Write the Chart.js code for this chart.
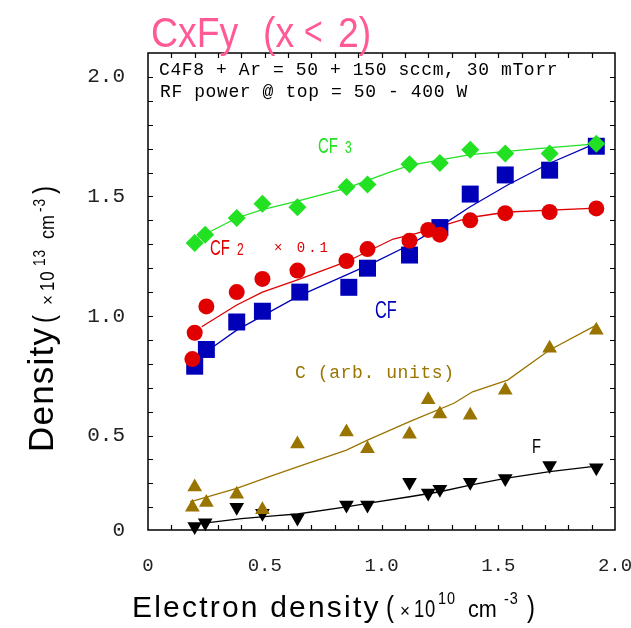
<!DOCTYPE html>
<html>
<head>
<meta charset="utf-8">
<script src="https://cdn.jsdelivr.net/npm/chart.js@4.4.1/dist/chart.umd.min.js"></script>
<style>
  html, body { margin: 0; padding: 0; background: #fff; }
  canvas { display: block; }
</style>
</head>
<body>
<canvas id="densityChart" width="631" height="628"></canvas>
<script>
// measured points (electron density vs. radical density)
const cf3X = [0.20, 0.245, 0.38, 0.49, 0.64, 0.85, 0.94, 1.12, 1.25, 1.38, 1.53, 1.72, 1.92];
const cf3Y = [1.305, 1.34, 1.41, 1.47, 1.455, 1.54, 1.55, 1.635, 1.64, 1.695, 1.68, 1.68, 1.72];

const cf2X = [0.19, 0.20, 0.25, 0.38, 0.49, 0.64, 0.85, 0.94, 1.12, 1.20, 1.25, 1.38, 1.53, 1.72, 1.92];
const cf2Y = [0.82, 0.93, 1.04, 1.10, 1.155, 1.19, 1.23, 1.28, 1.315, 1.36, 1.34, 1.40, 1.43, 1.435, 1.45];

const cfX = [0.20, 0.25, 0.38, 0.49, 0.65, 0.86, 0.94, 1.12, 1.25, 1.38, 1.53, 1.72, 1.92];
const cfY = [0.79, 0.86, 0.975, 1.02, 1.10, 1.12, 1.20, 1.255, 1.37, 1.51, 1.59, 1.61, 1.71];

const cX = [0.19, 0.20, 0.25, 0.38, 0.49, 0.64, 0.85, 0.94, 1.12, 1.20, 1.25, 1.38, 1.53, 1.72, 1.92];
const cY = [0.20, 0.285, 0.22, 0.255, 0.19, 0.465, 0.515, 0.445, 0.505, 0.65, 0.59, 0.585, 0.69, 0.865, 0.94];

const fX = [0.20, 0.245, 0.38, 0.49, 0.64, 0.85, 0.94, 1.12, 1.20, 1.25, 1.38, 1.53, 1.72, 1.92];
const fY = [0.12, 0.135, 0.20, 0.175, 0.155, 0.21, 0.21, 0.305, 0.26, 0.275, 0.305, 0.32, 0.375, 0.365];

// fitted curves
const cf3FitX = [0.17, 0.25, 0.38, 0.49, 0.64, 0.85, 1.03, 1.12, 1.38, 1.67, 1.92];
const cf3FitY = [1.30, 1.345, 1.41, 1.445, 1.48, 1.535, 1.60, 1.63, 1.675, 1.70, 1.72];

const cf2FitX = [0.23, 0.38, 0.49, 0.64, 0.85, 1.05, 1.15, 1.38, 1.54, 1.92];
const cf2FitY = [0.955, 1.046, 1.10, 1.151, 1.227, 1.322, 1.346, 1.412, 1.435, 1.451];

const cfFitX = [0.24, 0.38, 0.64, 0.85, 0.96, 1.12, 1.25, 1.38, 1.54, 1.72, 1.92];
const cfFitY = [0.844, 0.941, 1.081, 1.172, 1.22, 1.297, 1.374, 1.457, 1.548, 1.639, 1.723];

const cFitX = [0.18, 0.38, 0.52, 0.64, 0.85, 0.94, 1.12, 1.31, 1.39, 1.54, 1.72, 1.92];
const cFitY = [0.223, 0.279, 0.328, 0.369, 0.439, 0.481, 0.558, 0.635, 0.683, 0.732, 0.858, 0.962];

const fFitX = [0.25, 0.40, 0.55, 0.64, 0.85, 0.94, 1.12, 1.25, 1.38, 1.53, 1.72, 1.92];
const fFitY = [0.135, 0.153, 0.165, 0.172, 0.202, 0.216, 0.244, 0.265, 0.293, 0.321, 0.349, 0.372];

// axes
const xTicks = [0, 0.5, 1.0, 1.5, 2.0];
const xTickLabels = ['0', '0.5', '1.0', '1.5', '2.0'];
const yTicks = [0.105, 0.5, 1.0, 1.5, 2.0];
const yTickLabels = ['0', '0.5', '1.0', '1.5', '2.0'];

function toPoints(xs, ys) {
    return xs.map((x, i) => ({ x: x, y: ys[i] }));
}

function markers(xs, ys, color, style, radius, order, rotation) {
    return {
        data: toPoints(xs, ys),
        showLine: false,
        pointStyle: style,
        pointRadius: radius,
        pointRotation: rotation || 0,
        pointBackgroundColor: color,
        pointBorderWidth: 0,
        order: order,
        clip: false
    };
}

function fitLine(xs, ys, color, order) {
    return {
        data: toPoints(xs, ys),
        showLine: true,
        borderColor: color,
        borderWidth: 1.3,
        pointRadius: 0,
        fill: false,
        tension: 0,
        order: order
    };
}

const green = '#22e022';
const red = '#e00000';
const blue = '#0000b8';
const gold = '#9a7400';
const black = '#000000';

// text helper: optional horizontal squeeze and letter spacing
function txt(ctx, s, x, y, font, color, sx, ls) {
    ctx.save();
    ctx.font = font;
    ctx.fillStyle = color;
    ctx.textAlign = 'left';
    ctx.textBaseline = 'alphabetic';
    ctx.letterSpacing = (ls || 0) + 'px';
    ctx.translate(x, y);
    ctx.scale(sx || 1, 1);
    ctx.fillText(s, 0, 0);
    ctx.restore();
}

const framePlugin = {
    id: 'frame',
    afterDatasetsDraw(chart) {
        const ctx = chart.ctx;
        const a = chart.chartArea;
        const xs = chart.scales.x;
        const ys = chart.scales.y;

        ctx.save();
        ctx.strokeStyle = '#000';
        ctx.lineWidth = 1.5;
        ctx.strokeRect(a.left, a.top, a.right - a.left, a.bottom - a.top);

        // inward minor ticks every 0.1
        ctx.lineWidth = 1.2;
        ctx.beginPath();
        for (let i = 1; i < 20; i++) {
            const px = Math.round(xs.getPixelForValue(i / 10)) + 0.5;
            ctx.moveTo(px, a.bottom); ctx.lineTo(px, a.bottom - 5);
            ctx.moveTo(px, a.top); ctx.lineTo(px, a.top + 5);
        }
        for (let i = 2; i <= 20; i++) {
            const py = Math.round(ys.getPixelForValue(i / 10)) + 0.5;
            ctx.moveTo(a.left, py); ctx.lineTo(a.left + 5, py);
            ctx.moveTo(a.right, py); ctx.lineTo(a.right - 5, py);
        }
        ctx.stroke();
        ctx.restore();

        // title
        const pink = '#ff5a96';
        const tf = '43px "Liberation Sans"';
        txt(ctx, 'CxFy', 151, 47, tf, pink, 0.87);
        txt(ctx, '(x', 263, 47, tf, pink, 0.87);
        txt(ctx, '<', 304, 45, '40px "Liberation Sans"', pink, 0.8);
        txt(ctx, '2)', 338, 47, tf, pink, 0.87);

        // conditions
        const mono = '18px "Liberation Mono"';
        txt(ctx, 'C4F8 + Ar = 50 + 150 sccm, 30 mTorr', 159, 75, mono, '#000', 1, 0.6);
        txt(ctx, 'RF power @ top = 50 - 400 W', 160, 97, mono, '#000', 1, 0.6);

        // series labels
        txt(ctx, 'CF', 318, 153, '22px "Liberation Sans"', green, 0.68);
        txt(ctx, '3', 345, 153, '16px "Liberation Sans"', green, 0.75);
        txt(ctx, 'CF', 210, 255, '22px "Liberation Sans"', red, 0.68);
        txt(ctx, '2', 237, 255, '16px "Liberation Sans"', red, 0.75);
        txt(ctx, '\u00d7 0.1', 274, 252, '14px "Liberation Mono"', red, 1, 3);
        txt(ctx, 'CF', 375, 318, '24px "Liberation Sans"', blue, 0.68);
        txt(ctx, 'C (arb. units)', 295, 378, '18px "Liberation Mono"', gold, 1, 0.6);
        txt(ctx, 'F', 532, 453, '21px "Liberation Sans"', black, 0.7);

        // x axis title
        txt(ctx, 'Electron density', 132, 617, '30px "Liberation Sans"', '#000', 1, 2.2);
        txt(ctx, '(', 386, 617, '30px "Liberation Sans"', '#000', 0.8);
        txt(ctx, '\u00d7', 400, 617, '19px "Liberation Sans"', '#000', 0.9);
        txt(ctx, '10', 414, 617, '23px "Liberation Sans"', '#000', 0.8, 1);
        txt(ctx, '10', 438, 604, '17px "Liberation Sans"', '#000', 0.85, 1);
        txt(ctx, 'cm', 468, 617, '24px "Liberation Sans"', '#000', 0.9);
        txt(ctx, '-3', 504, 604, '17px "Liberation Sans"', '#000', 0.85, 1);
        txt(ctx, ')', 527, 617, '30px "Liberation Sans"', '#000', 0.8);

        // y axis title, rotated
        ctx.save();
        ctx.translate(53, 452);
        ctx.rotate(-Math.PI / 2);
        txt(ctx, 'Density', 0, 0, '35px "Liberation Sans"', '#000', 1, 1.2);
        txt(ctx, '(', 129, 1, '30px "Liberation Sans"', '#000', 0.8);
        txt(ctx, '\u00d7', 147, 1, '19px "Liberation Sans"', '#000', 0.9);
        txt(ctx, '10', 161, 1, '21px "Liberation Sans"', '#000', 0.8, 1);
        txt(ctx, '13', 186, -8, '16px "Liberation Sans"', '#000', 0.85, 1);
        txt(ctx, 'cm', 213, 1, '21px "Liberation Sans"', '#000', 0.85);
        txt(ctx, '-3', 240, -8, '16px "Liberation Sans"', '#000', 0.85, 1);
        txt(ctx, ')', 258, 1, '30px "Liberation Sans"', '#000', 0.8);
        ctx.restore();
    }
};

const ctx = document.getElementById('densityChart').getContext('2d');
const densityChart = new Chart(ctx, {
    type: 'scatter',
    data: {
        datasets: [
            markers(cf3X, cf3Y, green, 'rectRot', 9, 1),
            markers(cf2X, cf2Y, red, 'circle', 8, 2),
            markers(cfX, cfY, blue, 'rect', 12, 3),
            markers(cX, cY, gold, 'triangle', 8.5, 4),
            markers(fX, fY, black, 'triangle', 8.5, 5, 180),
            fitLine(cf3FitX, cf3FitY, green, 10),
            fitLine(cf2FitX, cf2FitY, red, 11),
            fitLine(cfFitX, cfFitY, blue, 12),
            fitLine(cFitX, cFitY, gold, 13),
            fitLine(fFitX, fFitY, black, 14)
        ]
    },
    options: {
        responsive: false,
        animation: false,
        devicePixelRatio: 1,
        layout: { padding: { top: 53, right: 16, left: 0, bottom: 0 } },
        plugins: {
            legend: { display: false },
            tooltip: { enabled: false }
        },
        scales: {
            x: {
                type: 'linear',
                min: 0,
                max: 2.0,
                afterBuildTicks: s => { s.ticks = xTicks.map(v => ({ value: v })); },
                afterFit: s => {
                    s.height = 98;
                    s.paddingLeft = 0;
                    s.paddingRight = 0;
                },
                grid: { display: false, drawTicks: false },
                border: { display: false },
                ticks: {
                    padding: 25,
                    color: '#222',
                    font: { family: '"Liberation Mono"', size: 19 },
                    callback: v => xTickLabels[xTicks.indexOf(v)]
                }
            },
            y: {
                type: 'linear',
                min: 0.105,
                max: 2.1,
                afterBuildTicks: s => { s.ticks = yTicks.map(v => ({ value: v })); },
                afterFit: s => {
                    s.width = 148;
                    s.paddingTop = 0;
                    s.paddingBottom = 0;
                },
                grid: { display: false, drawTicks: false },
                border: { display: false },
                ticks: {
                    padding: 23,
                    color: '#222',
                    font: { family: '"Liberation Mono"', size: 21 },
                    callback: v => yTickLabels[yTicks.indexOf(v)]
                }
            }
        }
    },
    plugins: [framePlugin]
});
</script>
</body>
</html>
